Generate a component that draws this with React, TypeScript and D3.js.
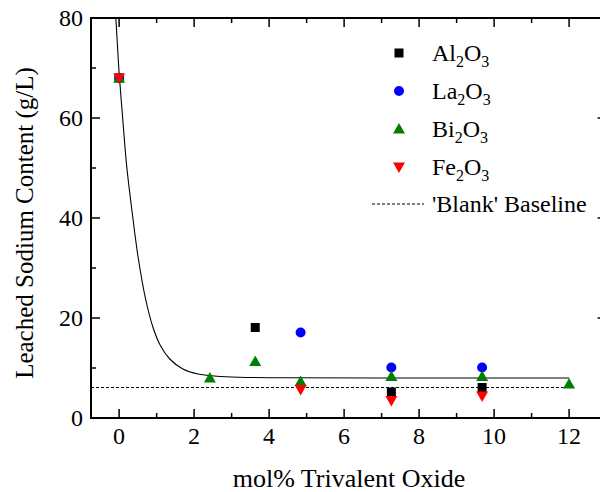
import React from "react";
import * as d3 from "d3";

const xValues = [0, 2.42, 3.63, 4.84, 7.26, 9.68, 12];

const al2o3 = [
  { x: 0, y: 68 },
  { x: 3.63, y: 18.1 },
  { x: 7.26, y: 5.2 },
  { x: 9.68, y: 6.1 },
];
const la2o3 = [
  { x: 0, y: 68 },
  { x: 4.84, y: 17.1 },
  { x: 7.26, y: 10.1 },
  { x: 9.68, y: 10.1 },
];
const bi2o3 = [
  { x: 0, y: 68 },
  { x: 2.42, y: 8.0 },
  { x: 3.63, y: 11.3 },
  { x: 4.84, y: 7.3 },
  { x: 7.26, y: 8.3 },
  { x: 9.68, y: 8.3 },
  { x: 12, y: 6.8 },
];
const fe2o3 = [
  { x: 0, y: 68 },
  { x: 4.84, y: 5.7 },
  { x: 7.26, y: 3.5 },
  { x: 9.68, y: 4.4 },
];

// fitted decay curve
const fitCurve = [
  { x: -0.12, y: 84 },
  { x: -0.06, y: 76.5 },
  { x: 0.0, y: 69 },
  { x: 0.1, y: 59.5 },
  { x: 0.2, y: 50.5 },
  { x: 0.35, y: 41 },
  { x: 0.5, y: 32.5 },
  { x: 0.7, y: 24 },
  { x: 0.9, y: 18.2 },
  { x: 1.1, y: 14.5 },
  { x: 1.35, y: 11.8 },
  { x: 1.7, y: 9.8 },
  { x: 2.1, y: 8.8 },
  { x: 2.6, y: 8.35 },
  { x: 3.2, y: 8.15 },
  { x: 4.5, y: 8.05 },
  { x: 7, y: 8.0 },
  { x: 12, y: 8.0 },
];

const baselineValue = 6.1;
const baselineRange = [-0.75, 12];

const xTicksMajor = [0, 2, 4, 6, 8, 10, 12];
const xTicksMinor = [1, 3, 5, 7, 9, 11, 13];
const yTicksMajor = [0, 20, 40, 60, 80];
const yTicksMinor = [10, 30, 50, 70];

const legendItems = [
  { base: "Al", sym: "square", color: "#000000" },
  { base: "La", sym: "circle", color: "#0000ff" },
  { base: "Bi", sym: "up", color: "#008000" },
  { base: "Fe", sym: "down", color: "#ff0000" },
];

const W = 600;
const H = 492;
const left = 91;
const right = 606.6;
const top = 18;
const bottom = 418;

const FONT = "'Liberation Serif', 'Times New Roman', 'DejaVu Serif', serif";
const tstyle = { fontFamily: FONT };

function Marker({ sym, cx, cy, color }: { sym: string; cx: number; cy: number; color: string }) {
  if (sym === "square") {
    return <rect x={cx - 4.5} y={cy - 4.5} width={9} height={9} fill={color} />;
  }
  if (sym === "circle") {
    return <circle cx={cx} cy={cy} r={5} fill={color} />;
  }
  if (sym === "up") {
    return (
      <path
        d={`M${cx},${cy - 6} L${cx + 6},${cy + 4.5} L${cx - 6},${cy + 4.5} Z`}
        fill={color}
      />
    );
  }
  return (
    <path
      d={`M${cx},${cy + 6} L${cx + 6},${cy - 4.5} L${cx - 6},${cy - 4.5} Z`}
      fill={color}
    />
  );
}

export default function App() {
  const x = d3.scaleLinear().domain([-0.75, 13]).range([left, right]);
  const y = d3.scaleLinear().domain([0, 80]).range([bottom, top]);

  const line = d3
    .line<{ x: number; y: number }>()
    .x((d) => x(d.x))
    .y((d) => y(d.y))
    .curve(d3.curveCatmullRom.alpha(0.5));

  const series = [
    { data: al2o3, sym: "square", color: "#000000" },
    { data: la2o3, sym: "circle", color: "#0000ff" },
    { data: bi2o3, sym: "up", color: "#008000" },
    { data: fe2o3, sym: "down", color: "#ff0000" },
  ];

  return (
    <svg
      width={W}
      height={H}
      style={{ position: "absolute", left: 0, top: 0, background: "#fff", fontFamily: FONT }}
    >
      <defs>
        <clipPath id="plotclip">
          <rect x={left} y={top} width={right - left} height={bottom - top} />
        </clipPath>
      </defs>
      <rect x={0} y={0} width={W} height={H} fill="#fff" />

      {/* baseline */}
      <line
        x1={x(baselineRange[0])}
        x2={x(baselineRange[1])}
        y1={y(baselineValue)}
        y2={y(baselineValue)}
        stroke="#000"
        strokeWidth={1}
        strokeDasharray="3,2"
      />
      {/* fit curve */}
      <path
        d={line(fitCurve) || ""}
        fill="none"
        stroke="#000"
        strokeWidth={1.1}
        clipPath="url(#plotclip)"
      />

      {/* markers */}
      {series.map((s, i) => (
        <g key={i}>
          {s.data.map((d, j) => (
            <Marker key={j} sym={s.sym} cx={x(d.x)} cy={y(d.y)} color={s.color} />
          ))}
        </g>
      ))}

      {/* axes frame */}
      <line x1={left} x2={left} y1={top - 1} y2={bottom + 1} stroke="#000" strokeWidth={2} />
      <line x1={left - 1} x2={right + 1} y1={bottom} y2={bottom} stroke="#000" strokeWidth={2} />
      <line x1={left - 1} x2={right + 1} y1={top} y2={top} stroke="#000" strokeWidth={2} />
      <line x1={right} x2={right} y1={top - 1} y2={bottom + 1} stroke="#000" strokeWidth={2} />

      {/* x ticks */}
      {xTicksMajor.map((t) => (
        <g key={"xM" + t}>
          <line x1={x(t)} x2={x(t)} y1={bottom} y2={bottom - 9} stroke="#000" strokeWidth={1.5} />
          <line x1={x(t)} x2={x(t)} y1={top} y2={top + 9} stroke="#000" strokeWidth={1.5} />
          <text x={x(t)} y={bottom + 26} textAnchor="middle" fontSize={24} fill="#000" style={tstyle}>
            {t}
          </text>
        </g>
      ))}
      {xTicksMinor.map((t) => (
        <g key={"xm" + t}>
          <line x1={x(t)} x2={x(t)} y1={bottom} y2={bottom - 5} stroke="#000" strokeWidth={1.5} />
          <line x1={x(t)} x2={x(t)} y1={top} y2={top + 5} stroke="#000" strokeWidth={1.5} />
        </g>
      ))}

      {/* y ticks */}
      {yTicksMajor.map((t) => (
        <g key={"yM" + t}>
          <line x1={left} x2={left + 9} y1={y(t)} y2={y(t)} stroke="#000" strokeWidth={1.5} />
          <line x1={right} x2={right - 9} y1={y(t)} y2={y(t)} stroke="#000" strokeWidth={1.5} />
          <text x={left - 8} y={y(t) + 8} textAnchor="end" fontSize={24} fill="#000" style={tstyle}>
            {t}
          </text>
        </g>
      ))}
      {yTicksMinor.map((t) => (
        <g key={"ym" + t}>
          <line x1={left} x2={left + 5} y1={y(t)} y2={y(t)} stroke="#000" strokeWidth={1.5} />
          <line x1={right} x2={right - 5} y1={y(t)} y2={y(t)} stroke="#000" strokeWidth={1.5} />
        </g>
      ))}

      {/* axis titles */}
      <text x={349} y={487} textAnchor="middle" fontSize={26} fill="#000" style={tstyle}>
        mol% Trivalent Oxide
      </text>
      <text
        transform={`translate(33,${(top + bottom) / 2 + 5}) rotate(-90)`}
        textAnchor="middle"
        fontSize={25}
        fill="#000"
        style={tstyle}
      >
        Leached Sodium Content (g/L)
      </text>

      {/* legend */}
      {legendItems.map((it, i) => {
        const cy = 53 + i * 38;
        return (
          <g key={it.base}>
            <Marker sym={it.sym} cx={399} cy={cy} color={it.color} />
            <text x={432} y={cy + 8} fontSize={24} fill="#000" style={tstyle}>
              {it.base}
              <tspan fontSize={16} dy={6}>2</tspan>
              <tspan dy={-6}>O</tspan>
              <tspan fontSize={16} dy={6}>3</tspan>
            </text>
          </g>
        );
      })}
      <line x1={372} x2={424} y1={204} y2={204} stroke="#000" strokeWidth={1} strokeDasharray="3,2" />
      <text x={432} y={212} fontSize={24} fill="#000" style={tstyle}>
        'Blank' Baseline
      </text>
    </svg>
  );
}
